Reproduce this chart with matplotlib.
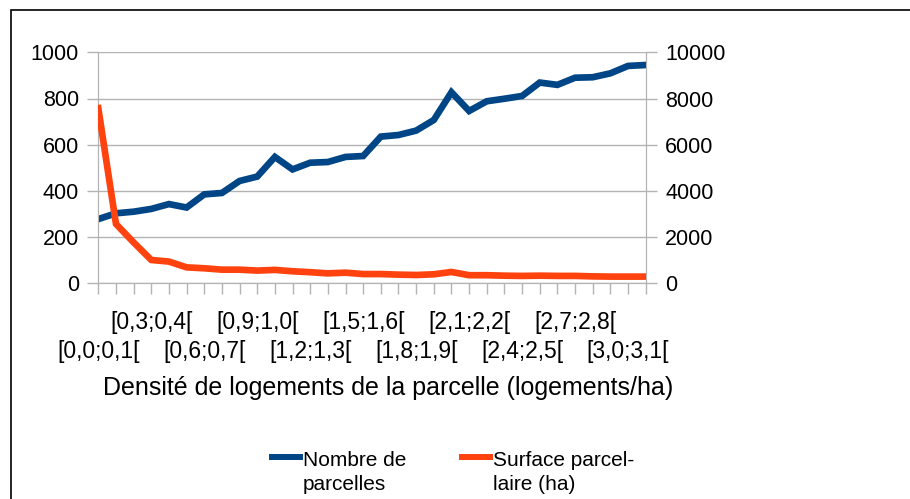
import numpy as np
import matplotlib
matplotlib.use("Agg")
import matplotlib.pyplot as plt
from matplotlib.patches import Rectangle
from matplotlib.lines import Line2D

plt.rcParams['font.family'] = ['Liberation Sans', 'DejaVu Sans']

# classes de densite : [0,0;0,1[ ... [3,1;3,2[
classes = ["[%s;%s[" % (("%.1f" % (i / 10)).replace(".", ","),
                        ("%.1f" % ((i + 1) / 10)).replace(".", ","))
           for i in range(32)]

nb_parcelles = [278, 303, 310, 322, 343, 328, 385, 391, 443, 462,
                547, 493, 522, 525, 547, 551, 635, 642, 661, 707,
                827, 746, 788, 799, 811, 869, 859, 890, 892, 909,
                941, 945]

surface_ha = [7580, 2570, 1770, 1010, 940, 690, 650, 590, 590, 550,
              580, 520, 480, 430, 460, 400, 400, 375, 360, 390,
              490, 350, 350, 330, 320, 330, 320, 320, 300, 290,
              290, 290]

series = ["Nombre de\nparcelles", "Surface parcel-\nlaire (ha)"]

BLEU = "#004586"
ROUGE = "#ff420e"
GRIS = "#b3b3b3"

W, H = 910, 499
fig = plt.figure(figsize=(W / 100, H / 100), dpi=100)
ax = fig.add_axes([98.3 / W, 1 - 283.3 / H, (645.7 - 98.3) / W, (283.3 - 52.3) / H])
ax2 = ax.twinx()

x = np.arange(len(classes))
ax.plot(x, nb_parcelles, color=BLEU, lw=4.8, solid_joinstyle="miter", zorder=3)
ax2.plot(x, surface_ha, color=ROUGE, lw=4.8, solid_joinstyle="miter", zorder=3)

ax.set_xlim(0, len(classes) - 1)
ax.set_ylim(0, 1000)
ax2.set_ylim(0, 10000)
ax.set_yticks(range(0, 1001, 200))
ax2.set_yticks(range(0, 10001, 2000))
ax.grid(axis="y", color=GRIS, lw=1)
ax.set_axisbelow(True)

# une etiquette sur trois, alternees sur deux rangees
ax.set_xticks(x)
ax.set_xticklabels([c if i % 6 == 3 else "" for i, c in enumerate(classes)])
bas = ax.secondary_xaxis("bottom")
rang2 = x[::6]
bas.set_xticks(rang2)
bas.set_xticklabels([classes[i] for i in rang2])
bas.tick_params(length=0, pad=41, labelsize=16.5)
bas.spines["bottom"].set_visible(False)

for a in (ax, ax2):
    for s in a.spines.values():
        s.set_color(GRIS)
    a.spines["top"].set_visible(False)
    a.tick_params(colors=GRIS, labelcolor="black", length=8, width=1)
ax.tick_params(axis="x", pad=12, labelsize=16.5)
ax.tick_params(axis="y", pad=6, labelsize=15.5)
ax2.tick_params(axis="y", pad=6, labelsize=15.5)

ax.set_xlabel("Densité de logements de la parcelle (logements/ha)", fontsize=18)
ax.xaxis.label.set_va("baseline")
ax.xaxis.set_label_coords((388 - 98.3) / 547.4, (283.3 - 395) / 231)

# legende sous le graphique
for couleur, nom, x0 in [(BLEU, series[0], 272), (ROUGE, series[1], 462)]:
    fig.add_artist(Line2D([x0 / W, (x0 + 28) / W], [1 - 457 / H] * 2,
                          color=couleur, lw=4.3, transform=fig.transFigure))
    fig.text((x0 + 31) / W, 1 - 451 / H, nom, fontsize=15, va="top",
             ha="left", linespacing=1.3)

# cadre du graphique
fig.patches.append(Rectangle((11 / W, -0.1), 1.2, 1 - 10 / H + 0.1, transform=fig.transFigure,
                             fill=False, edgecolor="black", lw=1.2))

fig.savefig("out.png", dpi=100)
